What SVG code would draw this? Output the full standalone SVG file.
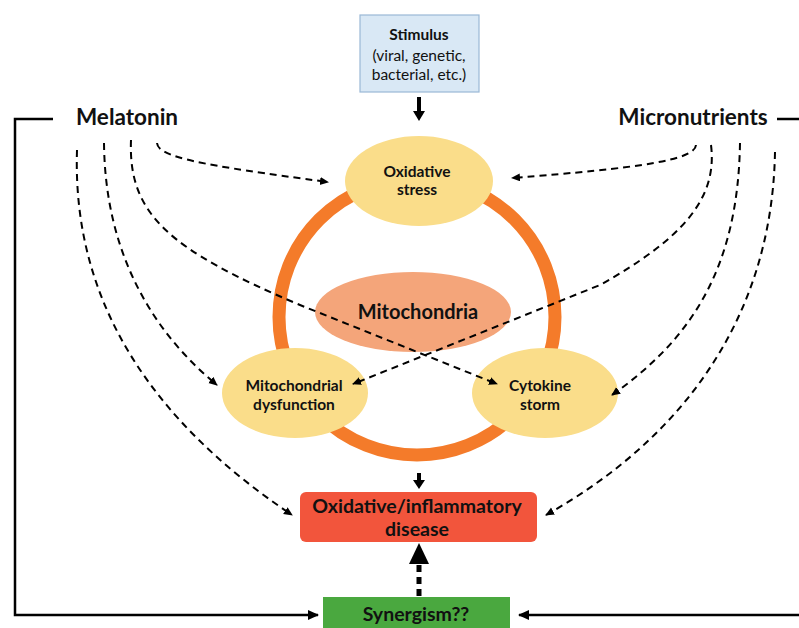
<svg xmlns="http://www.w3.org/2000/svg" width="799" height="628" viewBox="0 0 799 628">
<defs>
<marker id="ah" markerUnits="userSpaceOnUse" markerWidth="10" markerHeight="10" refX="8" refY="4" orient="auto">
<path d="M0,0 L9,4 L0,8 Z" fill="#000"/>
</marker>
<marker id="ahs" markerUnits="userSpaceOnUse" markerWidth="12" markerHeight="12" refX="10" refY="5" orient="auto">
<path d="M0,0 L11,5 L0,10 Z" fill="#000"/>
</marker>
<style>
text{font-family:Lato,"Liberation Sans",sans-serif;font-weight:bold;fill:#111;text-anchor:middle}
text.n{font-weight:normal}
.ell{fill:#fadd8a}
.dash{fill:none;stroke:#000;stroke-width:2;stroke-dasharray:7,5;marker-end:url(#ah)}
.solid{fill:none;stroke:#000;stroke-width:2.5}
</style>
</defs>
<rect width="799" height="628" fill="#fff"/>

<g id="ring"><circle cx="417" cy="317" r="138" fill="none" stroke="#f47b2a" stroke-width="13"/></g>

<g id="stimulus">
<rect x="360" y="15" width="119" height="77" fill="#d9e8f5" stroke="#9ab8d6" stroke-width="1.2"/>
<text x="419" y="40" font-size="15.5">Stimulus</text>
<text class="n" x="419" y="61" font-size="15.5">(viral, genetic,</text>
<text class="n" x="419" y="80" font-size="15.5">bacterial, etc.)</text>
</g>

<g id="oxidative-stress">
<ellipse class="ell" cx="419" cy="181" rx="74" ry="45"/>
<text x="417" y="177" font-size="15.5">Oxidative</text>
<text x="417" y="195" font-size="15.5">stress</text>
</g>

<g id="mitochondria">
<ellipse cx="413" cy="312" rx="98" ry="40" fill="#f4a57a"/>
<text x="418" y="319" font-size="20">Mitochondria</text>
</g>

<g id="mito-dysfunction">
<ellipse class="ell" cx="295" cy="393" rx="73" ry="45"/>
<text x="294" y="391" font-size="15.5">Mitochondrial</text>
<text x="294" y="410" font-size="15.5">dysfunction</text>
</g>

<g id="cytokine-storm">
<ellipse class="ell" cx="545" cy="393" rx="73" ry="45"/>
<text x="540" y="391" font-size="15.5">Cytokine</text>
<text x="540" y="410" font-size="15.5">storm</text>
</g>

<g id="disease">
<rect x="300" y="492" width="237" height="50" rx="6" fill="#f2553c"/>
<text x="417" y="513" font-size="19.5">Oxidative/inflammatory</text>
<text x="417" y="536" font-size="19.5">disease</text>
</g>

<g id="synergism">
<rect x="323" y="597" width="187" height="34" fill="#4aa83f"/>
<text x="416" y="621" font-size="19.5">Synergism??</text>
</g>

<g id="melatonin"><text x="127" y="125" font-size="22.5">Melatonin</text></g>
<g id="micronutrients"><text x="693" y="125" font-size="22.5">Micronutrients</text></g>

<g id="connectors">
<line x1="419" y1="97" x2="419" y2="112" stroke="#000" stroke-width="4"/>
<polygon points="413,111 425,111 419,121" fill="#000"/>
<line x1="419" y1="473" x2="419" y2="481" stroke="#000" stroke-width="4"/>
<polygon points="413,480 425,480 419,489" fill="#000"/>
<line x1="419" y1="596" x2="419" y2="561" stroke="#000" stroke-width="5" stroke-dasharray="7,5"/>
<polygon points="409,564 429,564 419,543" fill="#000"/>

<path class="dash" d="M157,143 C158,157 200,165 328,182"/>
<path class="dash" d="M131,140 C128,215 170,250 300,305 L497,384"/>
<path class="dash" d="M104,143 C105,250 150,330 217,385"/>
<path class="dash" d="M77,150 C72,300 150,420 292,515"/>

<path class="dash" d="M696,145 C695,160 640,168 512,178"/>
<path class="dash" d="M711,145 C718,200 680,240 600,285 L353,384"/>
<path class="dash" d="M740,143 C738,270 690,340 612,395"/>
<path class="dash" d="M775,152 C772,320 680,440 546,515"/>

<polyline class="solid" points="53,119 15,119 15,615 318,615" marker-end="url(#ahs)"/>
<line class="solid" x1="777" y1="119" x2="799" y2="119"/>
<line class="solid" x1="799" y1="615" x2="519" y2="615" marker-end="url(#ahs)"/>
</g>
</svg>
